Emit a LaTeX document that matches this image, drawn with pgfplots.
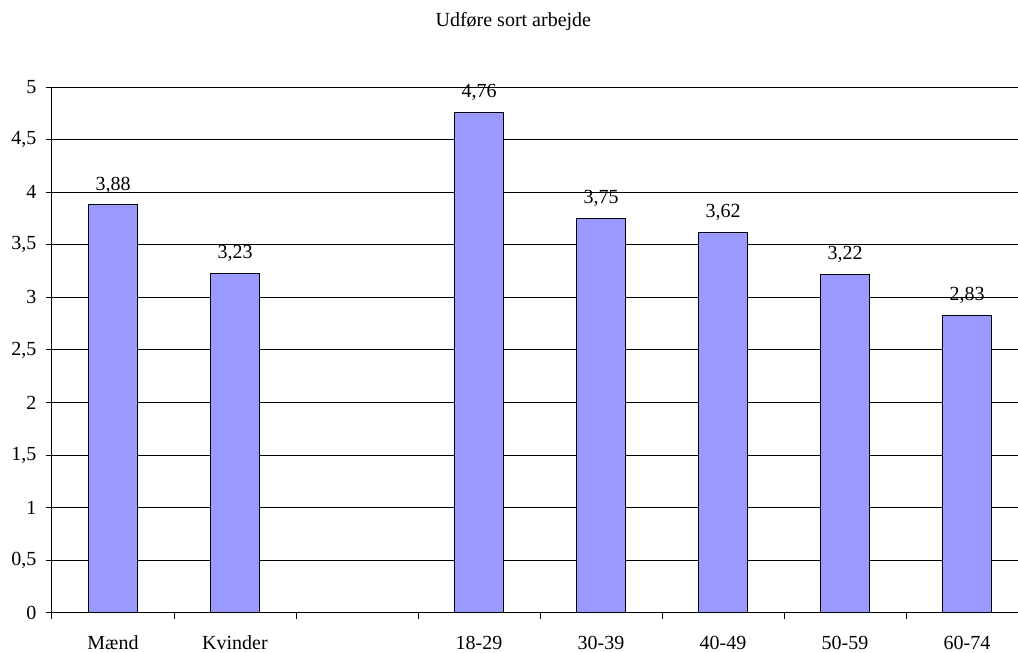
\documentclass[border=0pt]{standalone}
\usepackage{pgfplots}
\pgfplotsset{compat=1.18}
\usepackage{fontspec}
\setmainfont{Liberation Serif}
\definecolor{barblue}{RGB}{153,153,255}
\begin{document}
\fontsize{15}{18}\selectfont
\begin{tikzpicture}
\useasboundingbox (0,0) rectangle (763.5pt,489.75pt);
\node[anchor=base] at (385pt,469.5pt) {Udføre sort arbejde};
\begin{axis}[
  at={(39pt,30pt)}, anchor=south west,
  scale only axis, width=724.5pt, height=394.5pt,
  xmin=-0.5, xmax=7.418, ymin=0, ymax=5,
  axis x line=bottom, axis y line=left,
  axis line style={-, black, line width=0.75pt},
  /pgf/number format/assume math mode=true,
  /pgf/number format/use comma,
  ytick={0,0.5,...,5},
  yticklabel style={anchor=east, inner sep=0pt, xshift=-7pt},
  xtick={0,1,3,4,5,6,7},
  xticklabels={Mænd,Kvinder,18-29,30-39,40-49,50-59,60-74},
  xticklabel style={anchor=base, inner sep=0pt, yshift=-23pt},
  minor xtick={-0.5,0.5,...,6.5},
  tick align=outside,
  major tick length=4.5pt, minor tick length=4.5pt,
  major x tick style={draw=none},
  tick style={black, line width=0.75pt},
  ymajorgrids,
  grid style={black, line width=0.75pt},
  ybar, bar width=36.75pt,
  nodes near coords={\pgfmathprintnumber[fixed, fixed zerofill, precision=2, use comma]{\pgfplotspointmeta}},
  every node near coord/.append style={anchor=base, inner sep=0pt, yshift=11pt, black},
]
\addplot[fill=barblue, draw=black, line width=0.75pt] coordinates {
  (0,3.88) (1,3.23) (3,4.76) (4,3.75) (5,3.62) (6,3.22) (7,2.83)
};
\end{axis}
\end{tikzpicture}
\end{document}
